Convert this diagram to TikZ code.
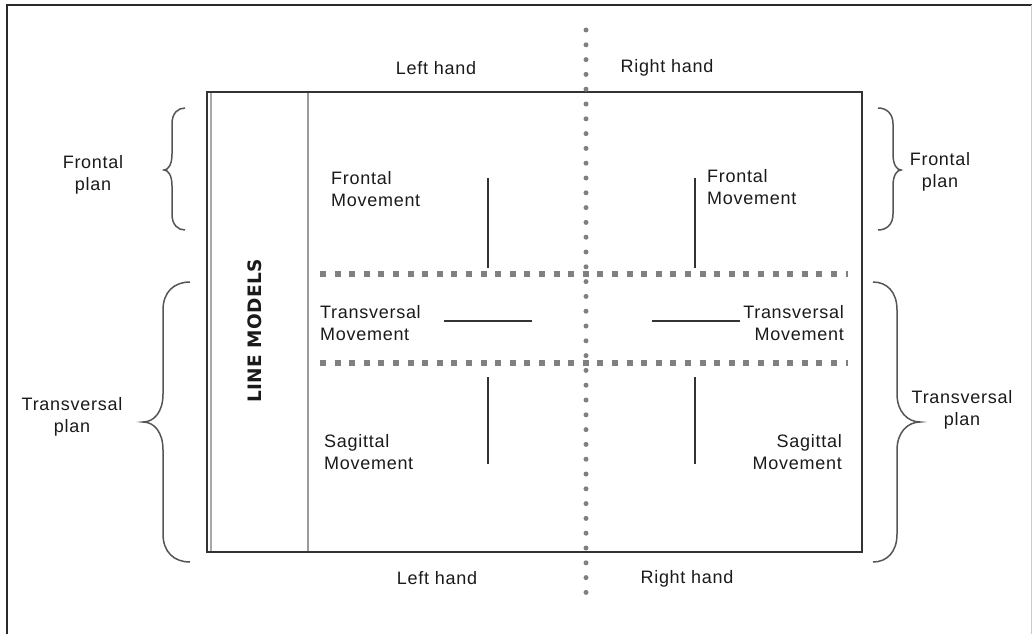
\documentclass[tikz,border=0pt]{standalone}
\usepackage{fontspec}
\setmainfont[LetterSpace=4]{Liberation Sans}
\newfontfamily\lmfont[LetterSpace=2]{DejaVu Sans}
\definecolor{frame}{HTML}{2A2A2A}
\definecolor{boxline}{HTML}{333333}
\definecolor{lightline}{HTML}{A8A8A8}
\definecolor{divline}{HTML}{9A9A9A}
\definecolor{dotgray}{HTML}{808080}
\definecolor{bracegray}{HTML}{555555}
\definecolor{txt}{HTML}{1A1A1A}
\begin{document}
\begin{tikzpicture}[x=1pt,y=-1pt,
  lbl/.style={inner sep=0pt, text=txt, font=\fontsize{18}{22.5}\selectfont},
  lblc/.style={lbl, align=center},
  lbll/.style={lbl, align=left},
  lblr/.style={lbl, align=right},
  bracepath/.style={draw=bracegray, line width=1.5pt},
  mvline/.style={draw=boxline, line width=1.8pt},
  dotline/.style={draw=dotgray, line width=5pt, line cap=round, dash pattern=on 0pt off 14.8pt},
  sqline/.style={draw=dotgray, line width=6pt, dash pattern=on 6pt off 8.6pt}
]
\useasboundingbox (0,0) rectangle (1032,634);
% outer frame
\draw[frame, line width=2pt] (7,634) -- (7,5) -- (1032,5);
\draw[lightline!60, line width=1pt] (1031,5) -- (1031,634);
% main box
\draw[boxline, line width=2pt] (207,92) rectangle (862,552);
\draw[lightline, line width=1.6pt] (211,93) -- (211,551);
\draw[divline, line width=1.5pt] (308,93) -- (308,551);
\node[rotate=90, inner sep=0pt, text=txt, font=\fontsize{18.5}{22}\selectfont\lmfont\bfseries] (lm) at (255,331) {LINE MODELS};
% square-dotted horizontal lines
\coordinate (h1a) at (320,274); \coordinate (h1b) at (848,274);
\coordinate (h2a) at (320,363); \coordinate (h2b) at (848,363);
\draw[sqline] (h1a) -- (h1b);
\draw[sqline] (h2a) -- (h2b);
% movement lines
\coordinate (f1a) at (488,178); \coordinate (f1b) at (488,268);
\coordinate (f2a) at (695,178); \coordinate (f2b) at (695,268);
\coordinate (s1a) at (488,377); \coordinate (s1b) at (488,464);
\coordinate (s2a) at (695,377); \coordinate (s2b) at (695,464);
\coordinate (t1a) at (444,321); \coordinate (t1b) at (532,321);
\coordinate (t2a) at (652,321); \coordinate (t2b) at (740,321);
\draw[mvline] (f1a) -- (f1b);
\draw[mvline] (f2a) -- (f2b);
\draw[mvline] (s1a) -- (s1b);
\draw[mvline] (s2a) -- (s2b);
\draw[mvline] (t1a) -- (t1b);
\draw[mvline] (t2a) -- (t2b);
% labels
\node[lbl] (lht) at (436,68) {Left hand};
\node[lbl] (rht) at (667,68) {Right hand};
\node[lbl] (lhb) at (437,578) {Left hand};
\node[lbl] (rhb) at (687,579) {Right hand};
\node[lblc] (fpl) at (93,175) {Frontal\\plan};
\node[lblc] (fpr) at (940,172) {Frontal\\plan};
\node[lblc] (tpl) at (72,417) {Transversal\\plan};
\node[lblc] (tpr) at (962,410) {Transversal\\plan};
\node[lbll, anchor=west] (fml) at (331,189) {Frontal\\Movement};
\node[lbll, anchor=west] (fmr) at (707,187) {Frontal\\Movement};
\node[lbll, anchor=west] (tml) at (320,323) {Transversal\\Movement};
\node[lblr, anchor=east] (tmr) at (844,323) {Transversal\\Movement};
\node[lbll, anchor=west] (sml) at (324,452) {Sagittal\\Movement};
\node[lblr, anchor=east] (smr) at (842,452) {Sagittal\\Movement};
% braces
\draw[bracepath] (185,108) .. controls (178,108) and (172,113) .. (172,124) -- (172,154) .. controls (172,165) and (168,170) .. (164,170) .. controls (168,170) and (172,175) .. (172,186) -- (172,214) .. controls (172,225) and (178,230) .. (185,230);
\draw[bracepath] (190,282) .. controls (174,282) and (163,292) .. (163,310) -- (163,394) .. controls (163,412) and (154,422) .. (143,422) .. controls (154,422) and (163,432) .. (163,450) -- (163,534) .. controls (163,552) and (174,562) .. (190,562);
\draw[bracepath] (878,108) .. controls (886,108) and (893,113) .. (893,124) -- (893,154) .. controls (893,165) and (897,170) .. (901,170) .. controls (897,170) and (893,175) .. (893,186) -- (893,214) .. controls (893,225) and (886,230) .. (878,230);
\draw[bracepath] (873,282) .. controls (887,282) and (897,292) .. (897,310) -- (897,394) .. controls (897,412) and (908,422) .. (920,422) .. controls (908,422) and (897,432) .. (897,450) -- (897,534) .. controls (897,552) and (887,562) .. (873,562);
% vertical dotted line
\coordinate (va) at (586,30); \coordinate (vb) at (586,594);
\draw[dotline] (va) -- (vb);
\end{tikzpicture}
\end{document}
